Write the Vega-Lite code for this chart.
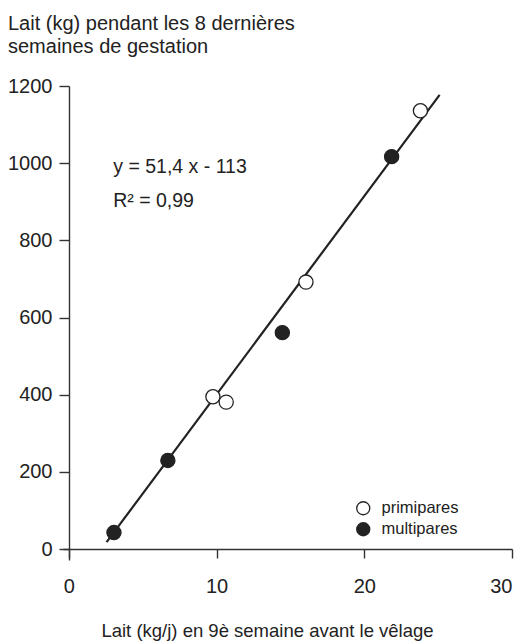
{
  "$schema": "https://vega.github.io/schema/vega-lite/v6.json",
  "width": 449,
  "height": 474,
  "autosize": {"type": "none"},
  "padding": {"left": 63, "top": 86, "right": 9, "bottom": 81},
  "background": "white",
  "config": {
    "font": "Liberation Sans",
    "view": {"stroke": null},
    "axis": {
      "grid": false,
      "domainColor": "#333",
      "domainWidth": 1.4,
      "tickColor": "#333",
      "tickWidth": 1.4,
      "labelColor": "#222",
      "labelFontSize": 20,
      "titleColor": "#222",
      "titleFontWeight": "normal"
    }
  },
  "title": {
    "text": ["Lait (kg) pendant les 8 dernières", "semaines de gestation"],
    "anchor": "start",
    "frame": "group",
    "dx": -55,
    "fontSize": 20,
    "fontWeight": "normal",
    "color": "#222",
    "lineHeight": 23,
    "offset": 19
  },
  "datasets": {
    "points": [
      {"x": 9.75, "y": 395, "groupe": "primipares"},
      {"x": 10.65, "y": 381, "groupe": "primipares"},
      {"x": 16.05, "y": 692, "groupe": "primipares"},
      {"x": 23.8, "y": 1136, "groupe": "primipares"},
      {"x": 3.05, "y": 43, "groupe": "multipares"},
      {"x": 6.7, "y": 230, "groupe": "multipares"},
      {"x": 14.45, "y": 561, "groupe": "multipares"},
      {"x": 21.85, "y": 1017, "groupe": "multipares"}
    ],
    "fit": [
      {"x": 2.55, "y": 18.1},
      {"x": 25.1, "y": 1177.1}
    ],
    "annotations": [
      {"label": "y = 51,4 x - 113", "x": 3, "y": 975},
      {"label": "R² = 0,99", "x": 3, "y": 887}
    ]
  },
  "layer": [
    {
      "data": {"name": "fit"},
      "mark": {"type": "line", "color": "#222", "strokeWidth": 2.2},
      "encoding": {
        "x": {
          "field": "x", "type": "quantitative",
          "scale": {"domain": [-0.4, 30], "nice": false, "zero": false},
          "axis": {
            "values": [0, 10, 20, 30],
            "format": "d",
            "offset": -11,
            "tickSize": 9,
            "labelPadding": 18,
            "title": "Lait (kg/j)  en 9è semaine avant le vêlage",
            "titleFontSize": 18.5,
            "titlePadding": 25,
            "titleX": 204
          }
        },
        "y": {
          "field": "y", "type": "quantitative",
          "scale": {"domain": [-28, 1200], "nice": false, "zero": false},
          "axis": {
            "values": [0, 200, 400, 600, 800, 1000, 1200],
            "format": "d",
            "offset": -6,
            "tickSize": 10,
            "labelPadding": 7,
            "title": null
          }
        }
      }
    },
    {
      "data": {"name": "points"},
      "mark": {"type": "circle", "size": 200, "stroke": "#222", "strokeWidth": 1.3, "opacity": 1},
      "encoding": {
        "x": {"field": "x", "type": "quantitative"},
        "y": {"field": "y", "type": "quantitative"},
        "fill": {
          "field": "groupe", "type": "nominal",
          "scale": {"domain": ["primipares", "multipares"], "range": ["white", "#222"]},
          "legend": {
            "orient": "none",
            "legendX": 292,
            "legendY": 414,
            "title": null,
            "padding": 0,
            "labelFontSize": 16.5,
            "labelColor": "#222",
            "labelOffset": 10,
            "symbolSize": 170,
            "symbolType": "circle",
            "symbolStrokeColor": "#222",
            "symbolStrokeWidth": 1.3,
            "symbolOpacity": 1,
            "rowPadding": 2
          }
        }
      }
    },
    {
      "data": {"name": "annotations"},
      "mark": {"type": "text", "align": "left", "baseline": "alphabetic", "fontSize": 19.5, "color": "#222"},
      "encoding": {
        "x": {"field": "x", "type": "quantitative"},
        "y": {"field": "y", "type": "quantitative"},
        "text": {"field": "label", "type": "nominal"}
      }
    }
  ]
}
